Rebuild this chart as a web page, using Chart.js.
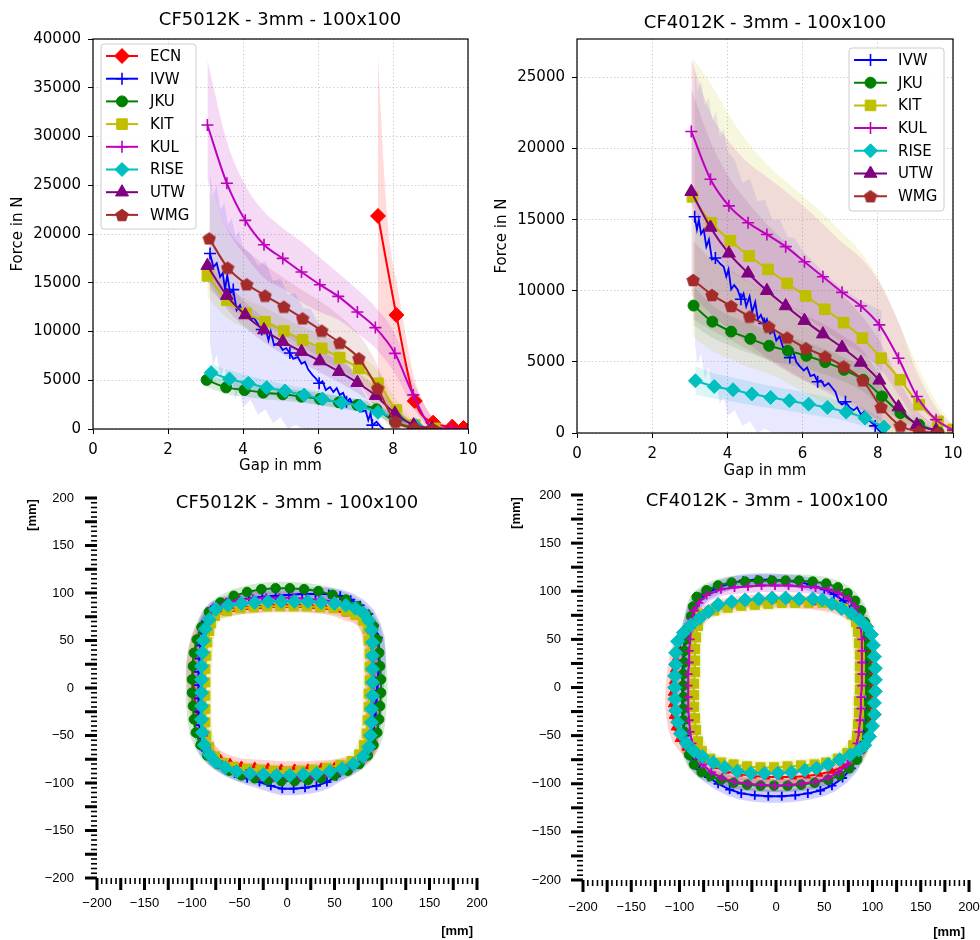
<!DOCTYPE html>
<html>
<head>
<meta charset="utf-8">
<title>CF5012K / CF4012K - 3mm - 100x100</title>
<script src="https://cdn.jsdelivr.net/npm/chart.js@4.4.1/dist/chart.umd.min.js"></script>
<style>
  html, body { margin: 0; padding: 0; background: #fff; }
  #page { position: relative; width: 980px; height: 940px; overflow: hidden; }
  canvas { position: absolute; }
</style>
</head>
<body>
<div id="page">
  <canvas id="forceLeft" width="490" height="480" style="left:0;top:0"></canvas>
  <canvas id="forceRight" width="490" height="480" style="left:490px;top:0"></canvas>
  <canvas id="shapeLeft" width="490" height="470" style="left:0;top:470px"></canvas>
  <canvas id="shapeRight" width="490" height="470" style="left:490px;top:470px"></canvas>
</div>
<script>
// ---------- force / gap : CF5012K ----------
const forceTicks5012 = [0, 5000, 10000, 15000, 20000, 25000, 30000, 35000, 40000];

const ecnGap5012 = [7.6, 8.09, 8.58, 9.07, 9.58, 9.88];
const ecnForce5012 = [21850, 11690, 2870, 650, 240, 100];
const ecnBandGap5012 = [7.6, 7.75, 7.9, 8.1, 8.3, 8.55, 8.8, 9.0, 9.4, 9.9];
const ecnHi5012 = [38300, 27000, 19500, 15000, 10500, 5500, 2800, 1500, 400, 150];
const ecnLo5012 = [4500, 3000, 1800, 900, 400, 150, 50, 0, 0, 0];

const ivwGap5012 = [3.12,3.21,3.30,3.39,3.46,3.52,3.58,3.66,3.74,3.83,3.92,4.01,4.12,4.21,4.29,4.41,4.50,4.59,4.68,4.74,4.83,4.94,5.06,5.15,5.25,5.34,5.46,5.56,5.65,5.74,5.86,5.94,6.03,6.12,6.21,6.32,6.41,6.50,6.58,6.67,6.76,6.85,6.94,7.05,7.16,7.27,7.34,7.40,7.45,7.56,7.67,7.76];
const ivwForce5012 = [18000,16600,17000,15600,16000,14300,15800,13900,14300,12200,12700,11700,11900,11200,11400,10700,10200,10500,9100,10000,8600,8800,8100,8300,7800,7200,7400,6700,6900,6100,5500,5200,4700,4900,4000,4300,3800,4200,3500,3700,2800,3100,2500,2200,1800,1900,900,1600,400,750,240,0];
const ivwBandGap5012 = [3.12, 3.2, 3.3, 3.4, 3.5, 3.6, 3.7, 3.8, 3.9, 4.0, 4.2, 4.4, 4.6, 4.8, 5.0, 5.2, 5.4, 5.6, 5.8, 6.0, 6.3, 6.6, 6.9, 7.2, 7.5, 7.76];
const ivwHi5012 = [26200, 24000, 25000, 22500, 23200, 21000, 21600, 19800, 20300, 18600, 18000, 16800, 17200, 15200, 15400, 13800, 13900, 12400, 12300, 10900, 9700, 8000, 6000, 3800, 1800, 0];
const ivwLo5012 = [8800, 6500, 7600, 5200, 6400, 4200, 5300, 3000, 4300, 2200, 3000, 1500, 2000, 600, 1200, 0, 400, 0, 0, 0, 0, 0, 0, 0, 0, 0];

const jkuGap5012 = [3.03, 3.55, 4.04, 4.54, 5.06, 5.56, 6.05, 6.56, 7.05, 7.56, 8.05, 8.55, 9.05];
const jkuForce5012 = [5030, 4270, 4000, 3730, 3560, 3320, 3080, 2740, 2460, 2020, 750, 150, 30];
const jkuHi5012 = [5800, 5000, 4700, 4400, 4200, 3950, 3700, 3350, 3050, 2600, 1200, 300, 50];
const jkuLo5012 = [4300, 3600, 3300, 3050, 2900, 2700, 2450, 2150, 1850, 1450, 350, 50, 0];

const kitGap5012 = [3.05, 3.57, 4.08, 4.59, 5.09, 5.59, 6.1, 6.58, 7.09, 7.6, 8.09, 8.58, 9.11];
const kitForce5012 = [15700, 13200, 11860, 11000, 10050, 9130, 8270, 7320, 6220, 4680, 1950, 410, 70];
const kitHi5012 = [17200, 14700, 13300, 12400, 11400, 10500, 9600, 8700, 7600, 6000, 3000, 800, 150];
const kitLo5012 = [13500, 11400, 10300, 9500, 8600, 7700, 6900, 6000, 4900, 3300, 1000, 100, 0];

const kulGap5012 = [3.05, 3.57, 4.06, 4.56, 5.06, 5.56, 6.05, 6.54, 7.05, 7.53, 8.05, 8.54, 9.04, 9.54, 10.0];
const kulForce5012 = [31180, 25200, 21400, 18900, 17500, 16100, 14800, 13600, 12000, 10400, 7760, 3500, 240, 60, 0];
const kulHi5012 = [37800, 29500, 25000, 22300, 20600, 19200, 17600, 16000, 14300, 12500, 9800, 4800, 1300, 300, 50];
const kulLo5012 = [25500, 20500, 17800, 15500, 14400, 13000, 12000, 11200, 9800, 8300, 5700, 2200, 100, 0, 0];

const riseGap5012 = [3.15, 3.64, 4.14, 4.63, 5.12, 5.63, 6.12, 6.63, 7.12, 7.6, 8.11, 8.61];
const riseForce5012 = [5780, 5130, 4680, 4240, 3900, 3490, 3080, 2700, 2360, 1710, 1090, 340];
const riseHi5012 = [6700, 6000, 5500, 5000, 4600, 4200, 3750, 3350, 2950, 2300, 1550, 600];
const riseLo5012 = [4900, 4300, 3900, 3500, 3200, 2800, 2400, 2050, 1750, 1150, 650, 100];

const utwGap5012 = [3.05, 3.57, 4.06, 4.56, 5.06, 5.56, 6.05, 6.56, 7.05, 7.54, 8.05, 8.55, 9.04];
const utwForce5012 = [16750, 13680, 11690, 10150, 8960, 7930, 6970, 5880, 4750, 3420, 1600, 410, 70];
const utwHi5012 = [18300, 15100, 13000, 11400, 10200, 9100, 8100, 7000, 5800, 4400, 2300, 700, 150];
const utwLo5012 = [15200, 12300, 10400, 8900, 7700, 6800, 5800, 4800, 3700, 2400, 900, 100, 0];

const wmgGap5012 = [3.1, 3.59, 4.1, 4.59, 5.09, 5.59, 6.1, 6.58, 7.09, 7.59, 8.07, 8.58, 9.07];
const wmgForce5012 = [19550, 16550, 14840, 13680, 12550, 11350, 10090, 8850, 7250, 4170, 750, 140, 0];
const wmgHi5012 = [24800, 20500, 18300, 16800, 15500, 14200, 13000, 11600, 9700, 6500, 1600, 300, 0];
const wmgLo5012 = [14300, 12600, 11400, 10600, 9600, 8500, 7200, 6100, 4800, 1800, 0, 0, 0];

// ---------- force / gap : CF4012K ----------
const forceTicks4012 = [0, 5000, 10000, 15000, 20000, 25000];

const ivwGap4012 = [3.13,3.19,3.24,3.30,3.37,3.44,3.51,3.59,3.68,3.81,3.90,3.97,4.03,4.10,4.18,4.27,4.36,4.43,4.50,4.59,4.66,4.74,4.81,4.89,4.98,5.05,5.14,5.23,5.30,5.39,5.48,5.57,5.66,5.74,5.83,5.92,6.03,6.12,6.21,6.31,6.40,6.49,6.58,6.69,6.78,6.87,6.96,7.05,7.14,7.25,7.36,7.45,7.55,7.64,7.76,7.85,7.93,8.02,8.11];
const ivwForce4012 = [15200,14300,15000,14000,14300,13100,13600,12200,12300,11900,11700,11000,11500,10100,10400,10100,9400,9800,8900,9600,8500,9200,8000,8300,7700,8000,7000,7200,6500,6800,6000,6100,5300,5800,5000,4700,4400,4600,4000,4100,3600,3700,3300,3500,3200,2900,2200,2000,2200,1800,1600,1800,1300,1500,900,700,500,200,0];
const ivwBandGap4012 = [3.13, 3.2, 3.3, 3.4, 3.5, 3.6, 3.7, 3.8, 3.9, 4.0, 4.2, 4.4, 4.6, 4.8, 5.0, 5.2, 5.4, 5.6, 5.8, 6.0, 6.3, 6.6, 6.9, 7.2, 7.5, 7.8, 8.1, 8.12];
const ivwHi4012 = [25600, 24000, 24800, 23000, 23600, 22000, 22600, 20800, 21400, 19800, 19200, 17600, 17900, 16300, 16400, 15000, 15000, 13800, 13700, 12800, 12000, 11200, 10500, 9900, 9400, 9000, 8600, 0];
const ivwLo4012 = [6500, 4800, 5600, 3800, 4600, 3000, 3600, 2000, 2600, 1200, 1600, 500, 800, 0, 300, 0, 0, 0, 0, 0, 0, 0, 0, 0, 0, 0, 0, 0];

const jkuGap4012 = [3.1, 3.6, 4.1, 4.61, 5.11, 5.61, 6.1, 6.6, 7.1, 7.61, 8.11, 8.6, 9.1, 9.6];
const jkuForce4012 = [8960, 7830, 7130, 6620, 6130, 5780, 5430, 4980, 4440, 3740, 2570, 1400, 580, 120];
const jkuHi4012 = [10300, 9000, 8200, 7700, 7200, 6800, 6400, 5900, 5300, 4600, 3300, 1900, 900, 250];
const jkuLo4012 = [7600, 6700, 6100, 5600, 5100, 4800, 4500, 4100, 3600, 2900, 1800, 900, 300, 0];

const kitGap4012 = [3.07, 3.57, 4.08, 4.58, 5.08, 5.59, 6.08, 6.59, 7.09, 7.59, 8.09, 8.6, 9.1, 9.6, 10.0];
const kitForce4012 = [16600, 14780, 13520, 12440, 11500, 10520, 9640, 8700, 7760, 6670, 5260, 3740, 1990, 820, 250];
const kitHi4012 = [26400, 24500, 22200, 20300, 18800, 17600, 16500, 15300, 14000, 12600, 10500, 7500, 4500, 2000, 600];
const kitLo4012 = [6800, 5800, 5200, 4600, 4200, 3500, 2800, 2100, 1500, 700, 0, 0, 0, 0, 0];

const kulGap4012 = [3.04, 3.55, 4.04, 4.55, 5.05, 5.55, 6.05, 6.54, 7.05, 7.55, 8.04, 8.55, 9.04, 9.55, 10.0];
const kulForce4012 = [21200, 17840, 15970, 14780, 13960, 13100, 12040, 10990, 9890, 8930, 7600, 5260, 2570, 940, 200];
const kulHi4012 = [26300, 22500, 20500, 19000, 18000, 17000, 15900, 14700, 13400, 12300, 10600, 7800, 4300, 1800, 500];
const kulLo4012 = [16100, 13200, 11500, 10600, 9900, 9200, 8200, 7300, 6400, 5600, 4600, 2700, 800, 100, 0];

const riseGap4012 = [3.15, 3.65, 4.15, 4.65, 5.15, 5.65, 6.16, 6.66, 7.16, 7.66, 8.16];
const riseForce4012 = [3670, 3270, 3040, 2740, 2500, 2270, 2030, 1800, 1470, 1050, 420];
const riseHi4012 = [4700, 4200, 3900, 3600, 3300, 3050, 2800, 2500, 2150, 1700, 900];
const riseLo4012 = [2700, 2400, 2200, 1950, 1750, 1550, 1300, 1100, 850, 450, 0];

const utwGap4012 = [3.04, 3.55, 4.04, 4.55, 5.05, 5.55, 6.05, 6.54, 7.05, 7.55, 8.04, 8.55, 9.04, 9.55];
const utwForce4012 = [16960, 14450, 12630, 11230, 10000, 8930, 7900, 6950, 6010, 4960, 3700, 1820, 580, 190];
const utwHi4012 = [24200, 20500, 18000, 16200, 14700, 13400, 12100, 10900, 9700, 8300, 6500, 3800, 1600, 500];
const utwLo4012 = [9700, 8400, 7300, 6300, 5300, 4500, 3700, 3000, 2300, 1600, 900, 200, 0, 0];

const wmgGap4012 = [3.09, 3.59, 4.1, 4.59, 5.1, 5.59, 6.09, 6.6, 7.09, 7.6, 8.09, 8.6, 9.1, 9.6];
const wmgForce4012 = [10760, 9710, 8930, 8190, 7480, 6710, 5960, 5380, 4680, 3700, 1820, 510, 120, 20];
const wmgHi4012 = [13500, 12200, 11400, 10600, 9900, 9100, 8300, 7600, 6800, 5800, 3800, 1500, 400, 100];
const wmgLo4012 = [8000, 7200, 6500, 5800, 5100, 4300, 3600, 3100, 2500, 1600, 200, 0, 0, 0];

// ---------- cross sections [mm] : CF5012K ----------
const ecnX5012 = [-82,-72,-58,-44,-30,-16,-2,12,26,40,52,62,72,80,85,88,89,89,89,89,89,89,90,89,84,76,64,50,36,22,8,-6,-20,-34,-48,-60,-70,-79,-86,-91,-94,-97,-98,-99,-99,-97,-94,-89,-82];
const ecnY5012 = [74,80,83,85,86,87,87,87,86,85,82,78,75,70,60,48,34,20,6,-8,-22,-36,-50,-62,-71,-77,-80,-82,-83,-84,-84,-84,-83,-82,-81,-78,-74,-67,-58,-45,-31,-17,-3,11,25,39,52,63,74];
const ivwX5012 = [-80,-68,-54,-40,-26,-12,2,16,30,44,56,67,77,86,92,96,97,97,96,95,94,93,91,88,83,74,63,52,42,31,19,7,-5,-17,-29,-42,-55,-67,-78,-86,-90,-92,-93,-93,-93,-93,-92,-91,-89,-86,-80];
const ivwY5012 = [82,88,92,94,96,97,98,99,99,99,97,93,87,78,66,53,39,25,11,-3,-17,-31,-45,-58,-70,-80,-87,-93,-99,-103,-105,-106,-106,-103,-99,-95,-90,-84,-76,-66,-53,-39,-25,-11,3,17,31,45,58,70,82];
const jkuX5012 = [-82,-70,-56,-42,-27,-12,3,18,33,48,62,74,84,91,95,97,98,99,99,98,97,95,91,85,76,64,50,36,22,8,-6,-20,-34,-48,-61,-73,-84,-91,-96,-98,-99,-100,-100,-99,-98,-95,-90,-82];
const jkuY5012 = [80,90,97,101,104,105,105,104,102,98,93,86,77,65,51,37,23,9,-5,-19,-33,-47,-60,-71,-80,-87,-92,-95,-97,-98,-98,-97,-95,-92,-87,-80,-71,-60,-47,-33,-19,-5,9,23,37,51,64,80];
const kitX5012 = [-76,-63,-49,-35,-21,-7,7,21,35,49,62,72,80,85,86,87,87,87,86,86,85,84,81,76,68,56,42,28,14,0,-14,-28,-42,-56,-67,-76,-82,-85,-86,-86,-86,-86,-86,-85,-84,-82,-80,-76];
const kitY5012 = [76,81,84,85,86,86,86,86,85,84,81,77,71,62,50,36,22,8,-6,-20,-34,-48,-60,-70,-77,-81,-84,-86,-87,-88,-87,-86,-85,-83,-79,-72,-62,-50,-36,-22,-8,6,20,34,48,60,68,76];
const kulX5012 = [-78,-64,-50,-36,-22,-8,6,20,34,48,60,71,80,86,89,90,91,91,91,91,90,90,89,86,79,68,55,41,27,13,-1,-15,-29,-43,-56,-68,-78,-85,-88,-90,-91,-91,-91,-91,-90,-89,-87,-83,-78];
const kulY5012 = [84,90,93,94,95,95,95,94,93,91,88,84,78,70,58,45,31,17,3,-11,-25,-39,-52,-64,-74,-82,-87,-90,-92,-93,-93,-93,-92,-90,-87,-81,-74,-63,-50,-36,-22,-8,6,20,34,48,60,72,84];
const riseX5012 = [-75,-62,-48,-34,-20,-6,8,22,36,50,62,72,80,86,89,90,90,90,90,90,89,89,88,86,80,70,58,45,31,17,3,-11,-25,-39,-53,-65,-75,-82,-87,-89,-90,-90,-90,-90,-90,-89,-88,-86,-82,-75];
const riseY5012 = [83,87,89,90,91,91,91,91,90,89,87,84,79,71,61,48,34,20,6,-8,-22,-36,-50,-62,-72,-80,-85,-88,-90,-91,-92,-92,-91,-90,-88,-84,-78,-70,-60,-47,-33,-19,-5,9,23,37,50,62,72,83];

// ---------- cross sections [mm] : CF4012K ----------
const ecnX4012 = [-72,-60,-46,-32,-18,-4,10,24,38,50,60,70,80,88,93,96,97,98,98,98,98,97,96,95,92,88,80,70,58,45,32,18,4,-10,-24,-38,-52,-64,-75,-85,-94,-101,-105,-107,-108,-108,-107,-106,-104,-101,-96,-88,-80,-72];
const ecnY4012 = [78,84,87,89,90,90,90,89,88,86,84,80,76,72,64,52,40,28,16,4,-8,-20,-32,-44,-56,-66,-75,-82,-87,-90,-92,-93,-93,-93,-92,-90,-87,-82,-76,-70,-63,-54,-42,-30,-18,-6,6,18,30,42,52,62,70,78];
const ivwX4012 = [-84,-75,-62,-48,-34,-20,-6,8,22,36,50,60,70,78,84,88,91,93,94,95,95,95,94,93,91,88,84,78,69,58,46,33,20,6,-8,-22,-36,-48,-60,-70,-79,-86,-91,-94,-96,-97,-97,-97,-97,-96,-95,-93,-90,-87,-84];
const ivwY4012 = [86,96,103,108,111,112,112,111,110,107,102,97,90,82,72,60,48,36,24,12,0,-12,-24,-36,-48,-60,-72,-84,-94,-102,-107,-110,-112,-113,-113,-112,-110,-106,-100,-93,-85,-75,-63,-50,-37,-24,-11,2,15,28,41,54,66,77,86];
const jkuX4012 = [-82,-72,-60,-46,-32,-18,-4,10,24,38,52,64,74,82,88,92,94,95,96,96,96,96,96,95,94,92,89,84,76,66,54,40,26,12,-2,-16,-30,-44,-57,-68,-77,-85,-90,-93,-95,-96,-96,-96,-96,-96,-95,-95,-93,-91,-88,-86,-82];
const jkuY4012 = [94,101,106,109,110,111,111,111,111,110,108,104,98,90,80,68,56,44,32,20,8,-4,-16,-28,-40,-52,-64,-75,-84,-91,-96,-99,-101,-102,-102,-102,-101,-99,-96,-92,-88,-80,-70,-58,-46,-34,-22,-10,2,14,26,38,50,62,74,84,94];
const kitX4012 = [-78,-64,-50,-36,-22,-8,6,20,34,48,60,70,78,83,85,86,87,87,87,87,86,86,85,84,80,74,64,52,40,26,12,-2,-16,-30,-44,-57,-68,-77,-81,-83,-84,-85,-85,-85,-84,-84,-84,-83,-81,-78];
const kitY4012 = [76,80,83,85,86,87,88,88,88,88,86,82,76,68,58,46,34,22,10,-2,-14,-26,-38,-50,-60,-68,-74,-78,-80,-81,-82,-83,-83,-82,-80,-78,-74,-66,-56,-44,-32,-20,-8,4,16,28,40,52,64,76];
const kulX4012 = [-85,-80,-72,-57,-43,-29,-15,-1,13,27,41,54,65,75,82,86,88,89,89,89,89,89,88,88,87,86,84,80,74,65,54,41,27,13,-1,-15,-29,-43,-56,-67,-76,-83,-87,-89,-90,-91,-91,-91,-91,-90,-90,-89,-88,-87,-85];
const kulY4012 = [80,88,96,102,104,105,106,106,106,105,104,102,98,92,84,74,62,50,38,26,14,2,-10,-22,-34,-46,-58,-70,-80,-88,-94,-98,-100,-101,-102,-101,-100,-98,-94,-88,-80,-70,-58,-46,-34,-22,-10,2,14,26,38,50,62,71,80];
const riseX4012 = [-60,-46,-32,-18,-4,10,24,38,48,58,68,78,87,94,99,101,102,103,103,103,102,102,100,97,92,86,77,66,54,42,30,16,2,-12,-26,-40,-53,-65,-76,-85,-93,-99,-102,-104,-105,-105,-105,-104,-104,-102,-96,-88,-79,-70,-60];
const riseY4012 = [86,89,91,92,93,93,92,92,91,87,82,77,70,63,55,44,32,20,8,-4,-16,-28,-40,-51,-60,-65,-70,-75,-80,-84,-86,-88,-89,-89,-89,-87,-83,-78,-72,-66,-58,-48,-36,-24,-12,0,12,24,36,48,57,65,72,79,86];

// ---------- styling ----------
Chart.defaults.font.family = '"DejaVu Sans", sans-serif';
Chart.defaults.color = '#000';

const COL = {
  ECN: '#ff0000', IVW: '#0000ff', JKU: '#008000', KIT: '#bfbf00',
  KUL: '#bf00bf', RISE: '#00bfbf', UTW: '#800080', WMG: '#a52a2a'
};

function rgba(hex, a) {
  const n = parseInt(hex.slice(1), 16);
  return `rgba(${n >> 16},${(n >> 8) & 255},${n & 255},${a})`;
}

// pentagon marker (matplotlib 'p') as an image point style
function pentagon(size, color) {
  const c = document.createElement('canvas');
  c.width = c.height = size;
  const g = c.getContext('2d');
  const r = size / 2;
  g.beginPath();
  for (let k = 0; k < 5; k++) {
    const a = -Math.PI / 2 + k * 2 * Math.PI / 5;
    const px = r + r * Math.cos(a), py = r + 0.1 * r + r * Math.sin(a);
    if (k) g.lineTo(px, py); else g.moveTo(px, py);
  }
  g.closePath();
  g.fillStyle = color;
  g.fill();
  return c;
}

const MARK = {
  ECN: { style: 'rectRot', r: 7.5 },
  IVW: { style: 'cross', r: 6 },
  JKU: { style: 'circle', r: 5.5 },
  KIT: { style: 'rect', r: 7.5 },
  KUL: { style: 'cross', r: 6 },
  RISE: { style: 'rectRot', r: 7 },
  UTW: { style: 'triangle', r: 7.5 },
  WMG: { style: pentagon(14, COL.WMG), r: 7 }
};

const MARK_SMALL = {
  ECN: { style: 'triangle', r: 4 },
  IVW: { style: 'cross', r: 4.5 },
  JKU: { style: 'circle', r: 4.8 },
  KIT: { style: 'rect', r: 6.5 },
  KUL: { style: 'cross', r: 4.5 },
  RISE: { style: 'rectRot', r: 7 }
};

const pts = (xs, ys) => xs.map((x, i) => ({ x, y: ys[i] }));

function band(xs, lo, hi, name, alpha, smooth) {
  const common = {
    showLine: true, borderWidth: 0, pointRadius: 0, order: 100,
    cubicInterpolationMode: smooth ? 'monotone' : 'default', tension: 0
  };
  return [
    { ...common, data: pts(xs, lo), fill: false },
    { ...common, data: pts(xs, hi), fill: '-1', backgroundColor: rgba(COL[name], alpha) }
  ];
}

function meanLine(name, xs, ys, z, markEvery) {
  const m = MARK[name];
  return {
    label: name, data: pts(xs, ys), showLine: true, fill: false,
    borderColor: COL[name], backgroundColor: COL[name], borderWidth: markEvery ? 1.8 : 2,
    pointStyle: m.style,
    pointRadius: markEvery ? (c => (c.dataIndex % markEvery === 0 ? m.r : 0)) : m.r,
    pointBackgroundColor: COL[name], pointBorderColor: COL[name],
    pointBorderWidth: m.style === 'cross' ? 1.6 : 1,
    cubicInterpolationMode: markEvery ? 'default' : 'monotone', tension: 0,
    order: z
  };
}

function outline(name, xs, ys, z) {
  const m = MARK_SMALL[name];
  return {
    label: name, data: pts(xs, ys), showLine: true, fill: false,
    borderColor: COL[name], backgroundColor: COL[name], borderWidth: 2,
    pointStyle: m.style, pointRadius: m.r,
    pointBackgroundColor: COL[name], pointBorderColor: COL[name],
    pointBorderWidth: m.style === 'cross' ? 1.8 : 1,
    tension: 0, order: z
  };
}

function halo(name, xs, ys) {
  return {
    data: pts(xs, ys), showLine: true, fill: false,
    borderColor: rgba(COL[name], 0.18), borderWidth: 13, borderJoinStyle: 'round',
    pointRadius: 0, tension: 0, order: 50
  };
}

// ---------- plugins ----------
const framePlugin = {
  id: 'frame',
  afterDatasetsDraw(chart) {
    const { ctx, chartArea: a } = chart;
    ctx.save();
    ctx.strokeStyle = '#000';
    ctx.lineWidth = 1.2;
    ctx.strokeRect(a.left, a.top, a.right - a.left, a.bottom - a.top);
    ctx.restore();
  }
};

function legendPlugin(names, box, y0, lineX1, lineX2, textX) {
  return {
    id: 'boxLegend',
    afterDraw(chart) {
      const ctx = chart.ctx;
      ctx.save();
      ctx.beginPath();
      if (ctx.roundRect) ctx.roundRect(box.x, box.y, box.w, box.h, 3);
      else ctx.rect(box.x, box.y, box.w, box.h);
      ctx.fillStyle = 'rgba(255,255,255,0.85)';
      ctx.fill();
      ctx.strokeStyle = '#cccccc';
      ctx.lineWidth = 1;
      ctx.stroke();
      names.forEach((n, i) => {
        const y = y0 + i * 22.7;
        ctx.strokeStyle = COL[n];
        ctx.fillStyle = COL[n];
        ctx.lineWidth = 2;
        ctx.beginPath();
        ctx.moveTo(lineX1, y);
        ctx.lineTo(lineX2, y);
        ctx.stroke();
        const m = MARK[n];
        ctx.lineWidth = m.style === 'cross' ? 1.6 : 1;
        Chart.helpers.drawPoint(ctx, { pointStyle: m.style, radius: m.r, rotation: 0, borderWidth: ctx.lineWidth }, (lineX1 + lineX2) / 2, y);
        ctx.fillStyle = '#000';
        ctx.font = '15px "DejaVu Sans"';
        ctx.textAlign = 'left';
        ctx.textBaseline = 'middle';
        ctx.fillText(n, textX, y + 1);
      });
      ctx.restore();
    }
  };
}

function textPlugin(items) {
  return {
    id: 'freeText',
    afterDraw(chart) {
      const ctx = chart.ctx;
      items.forEach(t => {
        ctx.save();
        ctx.font = t.font;
        ctx.fillStyle = '#000';
        ctx.textAlign = t.align || 'center';
        ctx.textBaseline = 'middle';
        ctx.translate(t.x, t.y);
        if (t.rot) ctx.rotate(t.rot);
        ctx.fillText(t.text, 0, 0);
        ctx.restore();
      });
    }
  };
}

// ruler-like ticks every 5 mm, longer every 25 mm
const rulerPlugin = {
  id: 'ruler',
  afterDraw(chart) {
    const { ctx, scales: { x, y } } = chart;
    ctx.save();
    ctx.fillStyle = '#000';
    for (let v = -200; v <= 200; v += 5) {
      const major = v % 25 === 0;
      const len = major ? 12 : 6;
      const w = major ? 3 : 1.6;
      const px = x.getPixelForValue(v);
      ctx.fillRect(px - w / 2, x.top, w, len);
      const py = y.getPixelForValue(v);
      ctx.fillRect(y.right - len, py - w / 2, len, w);
    }
    ctx.restore();
  }
};

// ---------- chart options ----------
function forceOptions(cfg) {
  const grid = { color: '#b8b8b8', lineWidth: 0.8, tickColor: '#000', tickLength: 5, tickWidth: 1, tickBorderDash: [] };
  const border = { display: false, dash: [1.2, 2.5] };
  return {
    responsive: false, animation: false, events: [],
    layout: { padding: { left: 0, right: cfg.padRight, top: 39, bottom: 0 } },
    plugins: { legend: { display: false }, tooltip: { enabled: false }, title: { display: false } },
    scales: {
      x: {
        type: 'linear', min: 0, max: 10,
        ticks: { stepSize: 2, padding: 7, color: '#000', font: { size: 15 }, maxRotation: 0, includeBounds: false },
        grid, border,
        title: { display: true, text: 'Gap in mm', color: '#000', font: { size: 15 }, padding: { top: 0, bottom: cfg.xTitleBottom } },
        afterFit: s => { s.height = cfg.xHeight; s.paddingLeft = 0; s.paddingRight = 0; }
      },
      y: {
        type: 'linear', min: 0, max: cfg.yMax,
        ticks: { padding: 7, color: '#000', font: { size: 15 }, callback: v => String(v) },
        afterBuildTicks: s => { s.ticks = cfg.yTicks.map(v => ({ value: v })); },
        grid, border,
        title: { display: true, text: 'Force in N', color: '#000', font: { size: 15 }, padding: { top: cfg.yTitleLeft, bottom: 0 } },
        afterFit: s => { s.width = cfg.yWidth; s.paddingTop = 0; s.paddingBottom = 0; }
      }
    }
  };
}

function shapeOptions(cfg) {
  const fmt = v => (v < 0 ? '\u2212' + Math.abs(v) : String(v));
  const axis = (pad, fit) => ({
    type: 'linear', min: -200, max: 200,
    ticks: { stepSize: 50, padding: pad, color: '#000', font: { family: '"Liberation Sans", Arial, sans-serif', size: 13 }, callback: fmt, maxRotation: 0, autoSkip: false, includeBounds: false },
    grid: { drawOnChartArea: false, drawTicks: true, tickLength: 12, tickColor: 'rgba(0,0,0,0)' },
    border: { display: false },
    afterFit: fit
  });
  return {
    responsive: false, animation: false, events: [],
    layout: { padding: { left: 0, right: cfg.padRight, top: cfg.padTop, bottom: 0 } },
    plugins: { legend: { display: false }, tooltip: { enabled: false } },
    scales: {
      x: axis(cfg.xPad, s => { s.height = cfg.xHeight; s.paddingLeft = 0; s.paddingRight = 0; }),
      y: axis(cfg.yPad, s => { s.width = cfg.yWidth; s.paddingTop = 0; s.paddingBottom = 0; })
    }
  };
}

const titleFont = '18px "DejaVu Sans"';
const mmBold = 'bold 13px "Liberation Sans", Arial, sans-serif';

// ---------- top left: CF5012K force ----------
new Chart(document.getElementById('forceLeft'), {
  type: 'scatter',
  data: {
    datasets: [
      ...band(kulGap5012, kulLo5012, kulHi5012, 'KUL', 0.15, true),
      ...band(ecnBandGap5012, ecnLo5012, ecnHi5012, 'ECN', 0.14, true),
      ...band(ivwBandGap5012, ivwLo5012, ivwHi5012, 'IVW', 0.10, false),
      ...band(wmgGap5012, wmgLo5012, wmgHi5012, 'WMG', 0.12, true),
      ...band(kitGap5012, kitLo5012, kitHi5012, 'KIT', 0.15, true),
      ...band(utwGap5012, utwLo5012, utwHi5012, 'UTW', 0.14, true),
      ...band(jkuGap5012, jkuLo5012, jkuHi5012, 'JKU', 0.15, true),
      ...band(riseGap5012, riseLo5012, riseHi5012, 'RISE', 0.15, true),
      meanLine('ECN', ecnGap5012, ecnForce5012, 8),
      meanLine('IVW', ivwGap5012, ivwForce5012, 7, 8),
      meanLine('JKU', jkuGap5012, jkuForce5012, 6),
      meanLine('KIT', kitGap5012, kitForce5012, 5),
      meanLine('KUL', kulGap5012, kulForce5012, 4),
      meanLine('RISE', riseGap5012, riseForce5012, 3),
      meanLine('UTW', utwGap5012, utwForce5012, 2),
      meanLine('WMG', wmgGap5012, wmgForce5012, 1)
    ]
  },
  options: forceOptions({ padRight: 22, yMax: 40000, yTicks: forceTicks5012, yWidth: 93, xHeight: 51, xTitleBottom: 5, yTitleLeft: 9 }),
  plugins: [
    framePlugin,
    legendPlugin(['ECN', 'IVW', 'JKU', 'KIT', 'KUL', 'RISE', 'UTW', 'WMG'], { x: 101, y: 44, w: 95, h: 185 }, 56, 106, 138, 150),
    textPlugin([{ text: 'CF5012K - 3mm - 100x100', x: 280, y: 20, font: titleFont }])
  ]
});

// ---------- top right: CF4012K force ----------
new Chart(document.getElementById('forceRight'), {
  type: 'scatter',
  data: {
    datasets: [
      ...band(kitGap4012, kitLo4012, kitHi4012, 'KIT', 0.13, true),
      ...band(kulGap4012, kulLo4012, kulHi4012, 'KUL', 0.13, true),
      ...band(ivwBandGap4012, ivwLo4012, ivwHi4012, 'IVW', 0.09, false),
      ...band(utwGap4012, utwLo4012, utwHi4012, 'UTW', 0.13, true),
      ...band(wmgGap4012, wmgLo4012, wmgHi4012, 'WMG', 0.12, true),
      ...band(jkuGap4012, jkuLo4012, jkuHi4012, 'JKU', 0.13, true),
      ...band(riseGap4012, riseLo4012, riseHi4012, 'RISE', 0.14, true),
      meanLine('IVW', ivwGap4012, ivwForce4012, 7, 8),
      meanLine('JKU', jkuGap4012, jkuForce4012, 6),
      meanLine('KIT', kitGap4012, kitForce4012, 5),
      meanLine('KUL', kulGap4012, kulForce4012, 4),
      meanLine('RISE', riseGap4012, riseForce4012, 3),
      meanLine('UTW', utwGap4012, utwForce4012, 2),
      meanLine('WMG', wmgGap4012, wmgForce4012, 1)
    ]
  },
  options: forceOptions({ padRight: 27, yMax: 27700, yTicks: forceTicks4012, yWidth: 87, xHeight: 47, xTitleBottom: 0, yTitleLeft: 3 }),
  plugins: [
    framePlugin,
    legendPlugin(['IVW', 'JKU', 'KIT', 'KUL', 'RISE', 'UTW', 'WMG'], { x: 359, y: 48, w: 95, h: 163 }, 60, 364, 397, 408),
    textPlugin([{ text: 'CF4012K - 3mm - 100x100', x: 275, y: 23, font: titleFont }])
  ]
});

// ---------- bottom left: CF5012K cross section ----------
new Chart(document.getElementById('shapeLeft'), {
  type: 'scatter',
  data: {
    datasets: [
      halo('ECN', ecnX5012, ecnY5012), halo('IVW', ivwX5012, ivwY5012), halo('JKU', jkuX5012, jkuY5012),
      halo('KIT', kitX5012, kitY5012), halo('KUL', kulX5012, kulY5012),
      outline('ECN', ecnX5012, ecnY5012, 6),
      outline('IVW', ivwX5012, ivwY5012, 5),
      outline('JKU', jkuX5012, jkuY5012, 4),
      outline('KIT', kitX5012, kitY5012, 3),
      outline('KUL', kulX5012, kulY5012, 2),
      outline('RISE', riseX5012, riseY5012, 1)
    ]
  },
  options: shapeOptions({ padRight: 13, padTop: 28, xHeight: 62, yWidth: 97, xPad: 6, yPad: 11 }),
  plugins: [rulerPlugin, textPlugin([
    { text: 'CF5012K - 3mm - 100x100', x: 297, y: 33, font: titleFont },
    { text: '[mm]', x: 32, y: 45, font: mmBold, rot: -Math.PI / 2 },
    { text: '[mm]', x: 473, y: 461, font: mmBold, align: 'right' }
  ])]
});

// ---------- bottom right: CF4012K cross section ----------
new Chart(document.getElementById('shapeRight'), {
  type: 'scatter',
  data: {
    datasets: [
      halo('ECN', ecnX4012, ecnY4012), halo('IVW', ivwX4012, ivwY4012), halo('JKU', jkuX4012, jkuY4012),
      halo('KIT', kitX4012, kitY4012), halo('KUL', kulX4012, kulY4012),
      outline('ECN', ecnX4012, ecnY4012, 6),
      outline('IVW', ivwX4012, ivwY4012, 5),
      outline('JKU', jkuX4012, jkuY4012, 4),
      outline('KIT', kitX4012, kitY4012, 3),
      outline('KUL', kulX4012, kulY4012, 2),
      outline('RISE', riseX4012, riseY4012, 1)
    ]
  },
  options: shapeOptions({ padRight: 11, padTop: 25, xHeight: 60, yWidth: 93, xPad: 8, yPad: 10 }),
  plugins: [rulerPlugin, textPlugin([
    { text: 'CF4012K - 3mm - 100x100', x: 277, y: 31, font: titleFont },
    { text: '[mm]', x: 26, y: 43, font: mmBold, rot: -Math.PI / 2 },
    { text: '[mm]', x: 475, y: 462, font: mmBold, align: 'right' }
  ])]
});
</script>
</body>
</html>
